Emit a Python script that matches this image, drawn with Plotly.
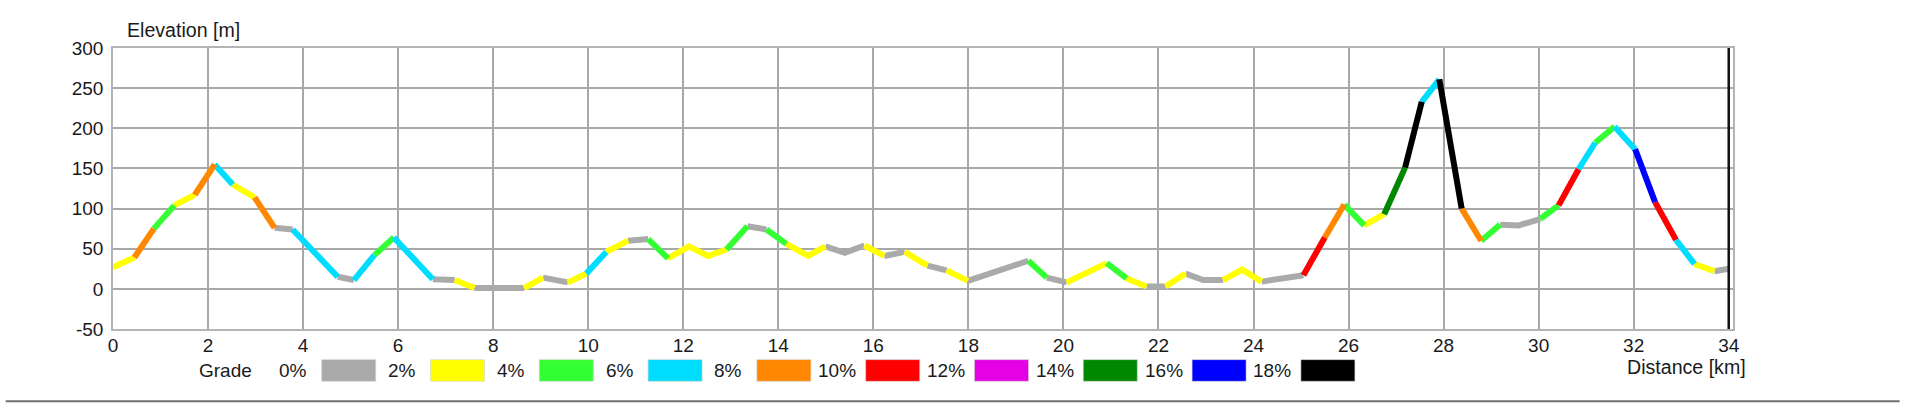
import plotly.graph_objects as go

# ---- data ----
distance_km = [0.00, 0.45, 0.86, 1.29, 1.72, 2.14, 2.52, 2.98, 3.40, 3.78,
               4.73, 5.07, 5.50, 5.91, 6.73, 7.19, 7.61, 8.65, 9.05, 9.57,
               9.96, 10.38, 10.84, 11.26, 11.68, 12.12, 12.52, 12.91, 13.35, 13.75,
               14.17, 14.63, 14.99, 15.40, 15.81, 16.23, 16.66, 17.14, 17.54, 17.99,
               19.26, 19.65, 20.07, 20.91, 21.33, 21.75, 22.15, 22.57, 22.94, 23.36,
               23.76, 24.17, 25.05, 25.50, 25.91, 26.33, 26.75, 27.19, 27.54, 27.91,
               28.38, 28.79, 29.19, 29.58, 30.03, 30.42, 30.84, 31.19, 31.60, 32.03,
               32.45, 32.89, 33.28, 33.70, 34.00]
elevation_m = [27, 39, 75, 104, 117, 155, 130, 114, 76, 74,
               15, 11, 42, 64, 12, 11, 1, 1, 14, 8,
               19, 46, 60, 62, 38, 53, 41, 49, 78, 74,
               56, 41, 53, 45, 54, 41, 46, 29, 23, 10,
               35, 14, 8, 32, 13, 3, 3, 19, 11, 11,
               24, 9, 17, 64, 105, 79, 93, 151, 233, 261,
               100, 60, 80, 79, 87, 104, 149, 182, 202, 174,
               108, 61, 31, 22, 25]
# grade class (lower bound, %) of each segment between consecutive points
segment_grade = [2, 8, 4, 2, 8, 6, 2, 8, 0, 6,
                 0, 6, 4, 6, 0, 2, 0, 2, 0, 2,
                 6, 2, 0, 4, 2, 2, 2, 4, 0, 4,
                 2, 2, 0, 0, 2, 0, 2, 0, 2, 0,
                 4, 0, 2, 4, 2, 0, 2, 0, 0, 2,
                 2, 0, 10, 8, 4, 2, 14, 18, 6, 18,
                 8, 4, 0, 0, 4, 10, 6, 4, 6, 16,
                 10, 6, 2, 0]
grade_classes = [0, 2, 4, 6, 8, 10, 12, 14, 16, 18]
grade_labels = ["0%", "2%", "4%", "6%", "8%", "10%", "12%", "14%", "16%", "18%"]
grade_colors = ["#AAAAAA", "#FFFF00", "#33FF33", "#00DDFF", "#FF8800",
                "#FF0000", "#E600E6", "#008800", "#0000FF", "#000000"]
x_ticks = list(range(0, 35, 2))
y_ticks = list(range(-50, 301, 50))
route_end_km = 34.0

# ---- layout geometry (pixels) ----
W, H = 1929, 417
PL, PR, PT, PB = 113.3, 1733.3, 47.7, 329.3
FONT = "Liberation Sans, Arial, Helvetica, sans-serif"
TXT = "#1a1a1a"
FS = 19
FS_TITLE = 19.6


def pxx(xp):
    return (xp - PL) / (PR - PL)


def pxy(yp):
    return (PB - yp) / (PB - PT)


fig = go.Figure()

# profile: one trace per grade class, contiguous runs merged
for cls, col in zip(grade_classes, grade_colors):
    xs, ys = [], []
    i = 0
    n = len(segment_grade)
    while i < n:
        if segment_grade[i] == cls:
            j = i
            while j + 1 < n and segment_grade[j + 1] == cls:
                j += 1
            xs.extend(distance_km[i:j + 2])
            ys.extend(elevation_m[i:j + 2])
            xs.append(None)
            ys.append(None)
            i = j + 1
        else:
            i += 1
    if xs:
        fig.add_trace(go.Scatter(x=xs, y=ys, mode="lines",
                                 line=dict(color=col, width=6),
                                 hoverinfo="skip", showlegend=False))

shapes = []
annotations = []

# route end marker
shapes.append(dict(type="line", xref="x", yref="y", x0=route_end_km, x1=route_end_km,
                   y0=-50, y1=300, line=dict(color="#111111", width=2.5), layer="above"))

# legend
box_left0, box_step, box_w = 322.0, 108.8, 54.0
box_top, box_bot = 360.0, 381.7
legend_y = 370.8
annotations.append(dict(text="Grade", x=pxx(226), y=pxy(legend_y), xref="paper", yref="paper",
                        xanchor="center", yanchor="middle", showarrow=False,
                        font=dict(family=FONT, size=FS, color=TXT)))
for k, (lab, col) in enumerate(zip(grade_labels, grade_colors)):
    left = box_left0 + box_step * k
    shapes.append(dict(type="rect", xref="paper", yref="paper",
                       x0=pxx(left), x1=pxx(left + box_w), y0=pxy(box_bot), y1=pxy(box_top),
                       fillcolor=col, line=dict(color="#d0d0d0", width=0.6)))
    annotations.append(dict(text=lab, x=pxx(left - 28.5), y=pxy(legend_y), xref="paper", yref="paper",
                            xanchor="center", yanchor="middle", showarrow=False,
                            font=dict(family=FONT, size=FS, color=TXT)))

# axis titles
annotations.append(dict(text="Elevation [m]", x=pxx(125.5), y=pxy(29.5), xref="paper", yref="paper",
                        xanchor="left", yanchor="middle", showarrow=False,
                        font=dict(family=FONT, size=FS_TITLE, color=TXT)))
annotations.append(dict(text="Distance [km]", x=pxx(1625), y=pxy(367.5), xref="paper", yref="paper",
                        xanchor="left", yanchor="middle", showarrow=False,
                        font=dict(family=FONT, size=FS_TITLE, color=TXT)))

# bottom rule
shapes.append(dict(type="line", xref="paper", yref="paper", x0=pxx(6), x1=pxx(1900),
                   y0=pxy(401.7), y1=pxy(401.7), line=dict(color="#707070", width=2)))

fig.update_layout(
    width=W, height=H, autosize=False,
    margin=dict(l=PL, r=W - PR, t=PT, b=H - PB, pad=0),
    paper_bgcolor="white", plot_bgcolor="white",
    shapes=shapes, annotations=annotations,
    font=dict(family=FONT, size=FS, color=TXT),
    xaxis=dict(range=[0, 34.09], tickvals=x_ticks, ticktext=[str(v) for v in x_ticks],
               showgrid=True, gridcolor="#A8A8A8", gridwidth=1.5, zeroline=False,
               showline=True, mirror=True, linecolor="#B4B4B4", linewidth=1.5,
               ticks="", ticklabelstandoff=-2,
               tickfont=dict(family=FONT, size=FS, color=TXT), fixedrange=True),
    yaxis=dict(range=[-50, 300], tickvals=y_ticks, ticktext=[str(v) for v in y_ticks],
               showgrid=True, gridcolor="#A8A8A8", gridwidth=1.5, zeroline=False,
               showline=True, mirror=True, linecolor="#B4B4B4", linewidth=1.5,
               ticks="outside", ticklen=4, tickcolor="rgba(0,0,0,0)",
               tickfont=dict(family=FONT, size=FS, color=TXT), fixedrange=True),
)

fig.write_html("out.html", config={"displayModeBar": False},
               post_script="document.body.style.margin='0';document.body.style.overflow='hidden';")
